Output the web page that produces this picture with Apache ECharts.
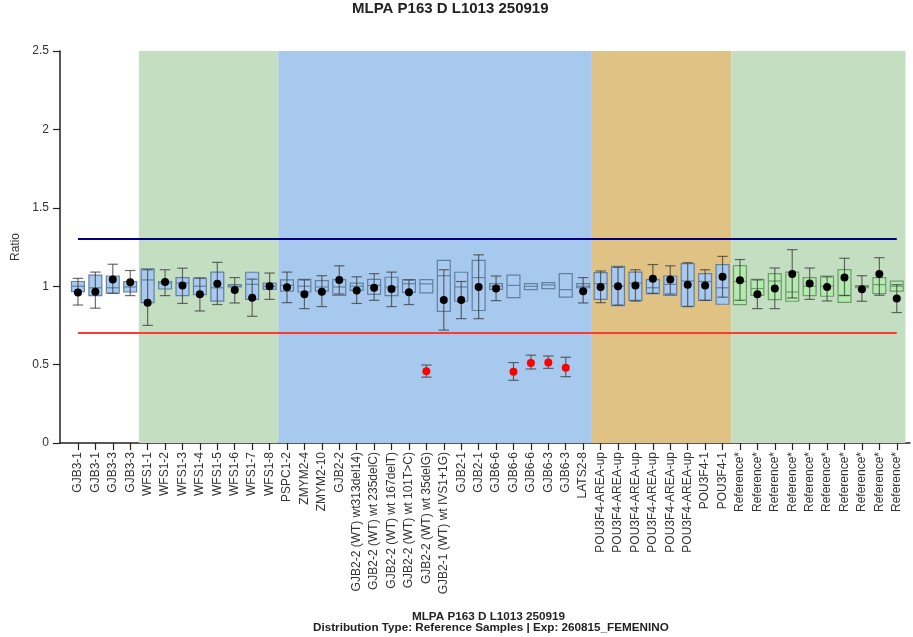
<!DOCTYPE html>
<html>
<head>
<meta charset="utf-8">
<script src="https://cdn.jsdelivr.net/npm/echarts@6/dist/echarts.min.js"></script>
<style>html,body{margin:0;padding:0;background:#fff}#c{width:913px;height:637px}</style>
</head>
<body>
<div id="c"></div>
<script>
const categories = ['GJB3-1','GJB3-1','GJB3-3','GJB3-3','WFS1-1','WFS1-2','WFS1-3','WFS1-4','WFS1-5','WFS1-6','WFS1-7','WFS1-8',
  'PSPC1-2','ZMYM2-4','ZMYM2-10','GJB2-2','GJB2-2 (WT) wt313del14)','GJB2-2 (WT) wt 235delC)','GJB2-2 (WT) wt 167delT)','GJB2-2 (WT) wt 101T>C)','GJB2-2 (WT) wt 35delG)','GJB2-1 (WT) wt IVS1+1G)',
  'GJB2-1','GJB2-1','GJB6-6','GJB6-6','GJB6-6','GJB6-3','GJB6-3','LATS2-8',
  'POU3F4-AREA-up','POU3F4-AREA-up','POU3F4-AREA-up','POU3F4-AREA-up','POU3F4-AREA-up','POU3F4-AREA-up','POU3F4-1','POU3F4-1',
  'Reference*','Reference*','Reference*','Reference*','Reference*','Reference*','Reference*','Reference*','Reference*','Reference*'];
const boxQ1 = [0.965,0.94,0.955,0.963,0.895,0.982,0.94,0.946,0.905,0.995,0.916,0.98,
  0.968,0.963,0.968,0.942,0.974,0.948,0.94,0.961,0.957,0.84,
  0.904,0.845,0.98,0.927,0.978,0.985,0.93,0.99,
  0.916,0.876,0.91,0.953,0.942,0.872,0.91,0.885,
  0.883,0.942,0.915,0.904,0.94,0.936,0.897,0.99,0.953,0.968];
const boxMedian = [1.0,0.99,0.99,0.995,1.04,1.02,1.02,1.0,0.99,1.0,1.012,1.0,
  1.005,1.0,0.995,0.995,1.0,1.005,0.995,1.016,1.015,1.067,
  0.995,1.055,1.0,1.005,0.999,1.008,0.978,1.0,
  1.016,1.0,1.02,0.99,1.012,1.033,1.03,0.99,
  1.03,0.985,1.033,0.963,1.0,1.0,0.942,0.998,1.01,1.0];
const boxQ3 = [1.03,1.07,1.065,1.03,1.11,1.03,1.055,1.052,1.09,1.01,1.089,1.02,
  1.04,1.044,1.036,1.042,1.02,1.044,1.057,1.042,1.042,1.165,
  1.089,1.165,1.017,1.07,1.017,1.023,1.08,1.017,
  1.087,1.127,1.09,1.042,1.065,1.144,1.08,1.138,
  1.131,1.044,1.08,1.09,1.055,1.065,1.106,1.004,1.055,1.033];
const ratio = [0.96,0.965,1.042,1.025,0.895,1.027,1.005,0.948,1.015,0.975,0.927,1.0,
  0.993,0.948,0.965,1.04,0.972,0.99,0.982,0.961,0.457,0.912,
  0.912,0.995,0.985,0.455,0.51,0.513,0.48,0.968,
  0.995,0.999,1.005,1.048,1.042,1.01,1.005,1.06,
  1.038,0.948,0.985,1.078,1.017,0.995,1.055,0.98,1.078,0.921];
const errLow = [0.88,0.86,0.955,0.94,0.75,0.94,0.89,0.842,0.883,0.893,0.808,0.916,
  0.895,0.857,0.87,0.95,0.89,0.91,0.87,0.883,0.42,0.72,
  0.793,0.793,0.908,0.40,0.472,0.476,0.423,0.893,
  0.895,0.88,0.905,0.955,0.95,0.87,0.91,0.93,
  0.91,0.857,0.857,0.925,0.916,0.906,0.94,0.904,0.942,0.832];
const errHigh = [1.05,1.09,1.14,1.10,1.105,1.105,1.115,1.052,1.152,1.055,1.045,1.084,
  1.09,1.04,1.067,1.13,1.06,1.08,1.09,1.04,0.497,1.105,
  1.03,1.2,1.065,0.513,0.56,0.555,0.547,1.055,
  1.097,1.12,1.105,1.138,1.13,1.15,1.105,1.19,
  1.17,1.04,1.116,1.233,1.116,1.06,1.178,1.067,1.182,1.01];
const yTicks = [0, 0.5, 1, 1.5, 2, 2.5];
const upperLimit = 1.3;
const lowerLimit = 0.7;
// category groups shaded behind the plot (first and last category index)
const groupFirst = [4, 12, 30, 38];
const groupLast = [11, 29, 37, 47];

const FONT = 'Liberation Sans, Arial, Helvetica, sans-serif';
const groupColors = ['#c4dec2', '#a7c9ee', '#dfc284', '#c4dec2'];
const idx = categories.map((_, i) => i);

const chart = echarts.init(document.getElementById('c'), null, {renderer: 'canvas'});
const option = {
  animation: false,
  backgroundColor: '#fff',
  title: [
    {text: 'MLPA P163 D L1013 250919', left: 352, top: 1.5, padding: 0,
     textStyle: {fontFamily: FONT, fontSize: 15, fontWeight: 'bold', color: '#222'}},
    {text: 'MLPA P163 D L1013 250919', left: 412, top: 611, padding: 0,
     textStyle: {fontFamily: FONT, fontSize: 11.7, fontWeight: 'bold', color: '#222'}},
    {text: 'Distribution Type: Reference Samples | Exp: 260815_FEMENINO', left: 313, top: 622, padding: 0,
     textStyle: {fontFamily: FONT, fontSize: 11.7, fontWeight: 'bold', color: '#222'}}
  ],
  grid: {left: 60, right: 3, top: 51, bottom: 194, containLabel: false},
  xAxis: {
    type: 'value', min: -1.03, max: 47.76,
    splitLine: {show: false},
    axisLine: {show: true, onZero: false, lineStyle: {color: '#222', width: 1.5}},
    axisTick: {show: true, length: 7, lineStyle: {color: '#222', width: 1.2}, customValues: idx},
    axisLabel: {show: true, rotate: 90, margin: 9, fontFamily: FONT, fontSize: 12, color: '#333',
      customValues: idx, formatter: v => categories[Math.round(v)] || ''}
  },
  yAxis: {
    type: 'value', min: 0, max: 2.5, interval: 0.5,
    name: 'Ratio', nameLocation: 'middle', nameGap: 37, nameRotate: 90,
    nameTextStyle: {fontFamily: FONT, fontSize: 12, color: '#333'},
    splitLine: {show: false},
    axisLine: {show: true, onZero: false, lineStyle: {color: '#222', width: 1.5}},
    axisTick: {show: true, inside: false, length: 7, lineStyle: {color: '#222', width: 1.2}, customValues: yTicks},
    axisLabel: {fontFamily: FONT, fontSize: 12, color: '#333', margin: 11, customValues: yTicks,
      formatter: v => String(v)}
  },
  series: [
    {
      type: 'custom', name: 'bands', z: 1, silent: true,
      data: [],
      renderItem: () => null,
      markArea: {
        silent: true,
        data: groupFirst.map((f, k) => [
          {xAxis: f - 0.5, yAxis: 0, itemStyle: {color: groupColors[k]}},
          {xAxis: groupLast[k] + 0.5, yAxis: 2.5}
        ])
      },
      markLine: {
        silent: true, symbol: 'none', label: {show: false},
        data: [
          [{coord: [0, upperLimit], lineStyle: {color: '#000080', width: 2, type: 'solid'}}, {coord: [categories.length - 1, upperLimit]}],
          [{coord: [0, lowerLimit], lineStyle: {color: '#ff3b30', width: 2, type: 'solid'}}, {coord: [categories.length - 1, lowerLimit]}]
        ]
      }
    },
    {
      type: 'custom', name: 'reference box', z: 3,
      data: idx.map(i => [i, boxQ1[i], boxMedian[i], boxQ3[i]]),
      encode: {x: 0, y: [1, 2, 3]},
      renderItem: (params, api) => {
        const x = api.value(0);
        const pT = api.coord([x, api.value(3)]);
        const pB = api.coord([x, api.value(1)]);
        const pM = api.coord([x, api.value(2)]);
        const w = api.size([1, 0])[0] * 0.74;
        const isRef = categories[x].indexOf('Reference') === 0;
        const fill = isRef ? '#b3ebae' : '#a8caf0';
        const stroke = isRef ? '#6f9a6c' : '#62809f';
        return {type: 'group', children: [
          {type: 'rect', shape: {x: pT[0] - w / 2, y: pT[1], width: w, height: pB[1] - pT[1]},
           style: {fill: fill, stroke: stroke, lineWidth: 1.2}},
          {type: 'line', shape: {x1: pM[0] - w / 2, y1: pM[1], x2: pM[0] + w / 2, y2: pM[1]},
           style: {stroke: stroke, lineWidth: 1.2}}
        ]};
      }
    },
    {
      type: 'custom', name: 'error', z: 4,
      data: idx.map(i => [i, errLow[i], errHigh[i]]),
      encode: {x: 0, y: [1, 2]},
      renderItem: (params, api) => {
        const x = api.value(0);
        const pL = api.coord([x, api.value(1)]);
        const pH = api.coord([x, api.value(2)]);
        const c = api.size([1, 0])[0] * 0.3;
        const st = {stroke: 'rgba(60,60,60,0.75)', lineWidth: 1.2};
        return {type: 'group', children: [
          {type: 'line', shape: {x1: pL[0], y1: pL[1], x2: pH[0], y2: pH[1]}, style: st},
          {type: 'line', shape: {x1: pL[0] - c, y1: pL[1], x2: pL[0] + c, y2: pL[1]}, style: st},
          {type: 'line', shape: {x1: pH[0] - c, y1: pH[1], x2: pH[0] + c, y2: pH[1]}, style: st}
        ]};
      }
    },
    {
      type: 'scatter', name: 'ratio', z: 5,
      symbol: 'circle', symbolSize: 8,
      data: idx.map(i => [i, ratio[i]]),
      itemStyle: {
        color: p => (p.value[1] < lowerLimit || p.value[1] > upperLimit) ? '#ff0000' : '#000000',
        opacity: 1
      }
    }
  ]
};
chart.setOption(option);
</script>
</body>
</html>
